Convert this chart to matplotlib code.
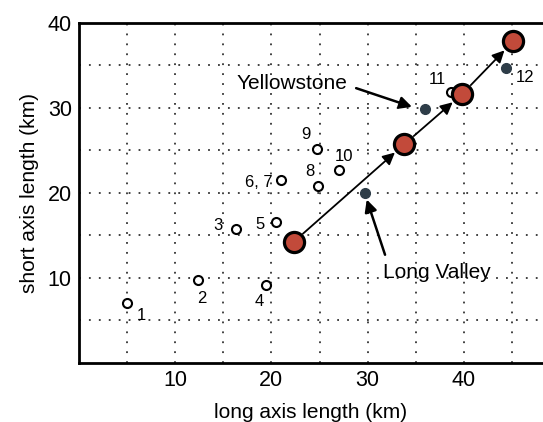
import matplotlib
matplotlib.use('Agg')
import matplotlib.pyplot as plt

plt.rcParams['font.family'] = ['Liberation Sans', 'DejaVu Sans']

# open circles, numbered calderas
open_x = [5.0, 12.4, 16.3, 19.4, 20.5, 21.0, 24.8, 24.7, 27.0, 38.7]
open_y = [7.0, 9.7, 15.7, 9.1, 16.5, 21.5, 20.8, 25.1, 22.7, 31.8]

# labels for numbered points and where they sit
num_labels = ['1', '2', '3', '4', '5', '6, 7', '8', '9', '10', '11', '12']
num_lx = [6.5, 12.8, 14.5, 18.75, 18.8, 18.65, 23.95, 23.6, 27.55, 37.2, 46.3]
num_ly = [5.6, 7.6, 16.1, 7.2, 16.3, 21.2, 22.5, 26.8, 24.3, 33.3, 33.6]

# dark filled points: Long Valley, Yellowstone, 12
dark_x = [29.7, 35.9, 44.4]
dark_y = [20.0, 29.8, 34.7]

# big red circles, connected by arrows
red_x = [22.3, 33.8, 39.8, 45.1]
red_y = [14.2, 25.7, 31.6, 37.8]

fig = plt.figure(figsize=(5.43, 4.22), dpi=100)
ax = fig.add_axes([0.145, 0.1405, 0.855, 0.8057])
ax.set_xlim(0, 48.2)
ax.set_ylim(0, 40)

# dotted grid every 5 km
for v in range(5, 50, 5):
    ax.axvline(v, color='#333333', linestyle=(0, (1, 4.5)), linewidth=1.3, zorder=0)
for v in range(5, 40, 5):
    ax.axhline(v, color='#333333', linestyle=(0, (1, 4.5)), linewidth=1.3, zorder=0)

ax.set_xticks([10, 20, 30, 40])
ax.set_yticks([10, 20, 30, 40])
ax.tick_params(direction='in', length=0, labelsize=15.5, pad=5)
for s in ['left', 'bottom', 'top']:
    ax.spines[s].set_linewidth(2)
ax.spines['right'].set_visible(False)

ax.set_xlabel('long axis length (km)', fontsize=15, labelpad=9)
ax.set_ylabel('short axis length (km)', fontsize=15, labelpad=6)

# arrows between red circles
for i in range(len(red_x) - 1):
    ax.annotate('', xy=(red_x[i + 1], red_y[i + 1]), xytext=(red_x[i], red_y[i]),
                arrowprops=dict(arrowstyle='-|>', color='black', lw=1.3,
                                mutation_scale=18, shrinkA=9, shrinkB=9),
                zorder=2)

ax.plot(open_x, open_y, 'o', markersize=6.5, markerfacecolor='white',
        markeredgecolor='black', markeredgewidth=1.5, zorder=3)
ax.plot(dark_x, dark_y, 'o', markersize=7, markerfacecolor='#2e3d48',
        markeredgecolor='#2e3d48', zorder=3)
ax.plot(red_x, red_y, 'o', markersize=14.5, markerfacecolor='#c24a3a',
        markeredgecolor='black', markeredgewidth=2.3, zorder=4)

for t, lx, ly in zip(num_labels, num_lx, num_ly):
    ax.text(lx, ly, t, fontsize=12, ha='center', va='center', zorder=5)

# callouts
ax.text(22.1, 32.9, 'Yellowstone', fontsize=15, ha='center', va='center')
ax.annotate('', xy=(34.6, 30.1), xytext=(28.8, 32.3),
            arrowprops=dict(arrowstyle='-|>', color='black', lw=1.8,
                            mutation_scale=18, shrinkA=0, shrinkB=0))
ax.text(31.6, 10.65, 'Long Valley', fontsize=15, ha='left', va='center')
ax.annotate('', xy=(29.9, 19.2), xytext=(31.8, 12.7),
            arrowprops=dict(arrowstyle='-|>', color='black', lw=1.8,
                            mutation_scale=18, shrinkA=0, shrinkB=0))

fig.savefig('out.png', dpi=100)
